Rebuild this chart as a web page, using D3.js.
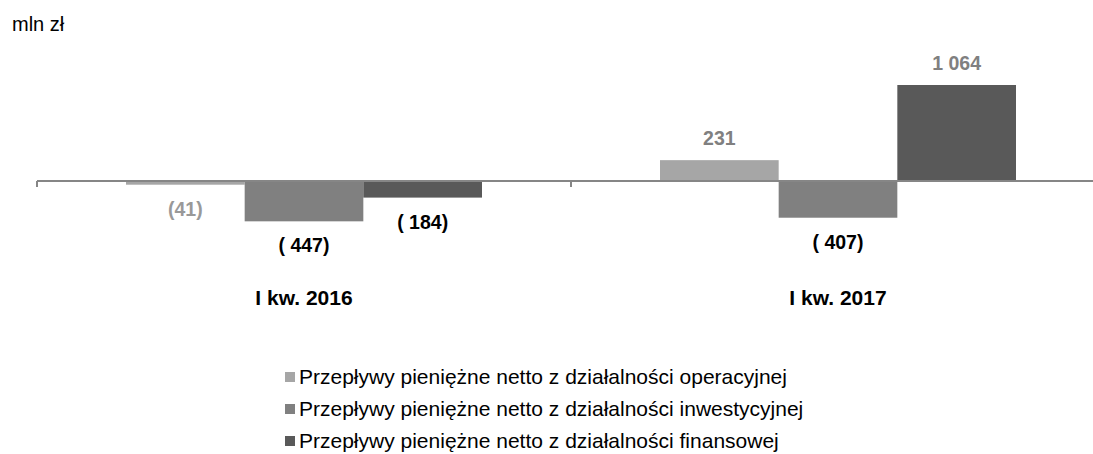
<!DOCTYPE html>
<html>
<head>
<meta charset="utf-8">
<script src="https://cdn.jsdelivr.net/npm/d3@7"></script>
<style>
  body { margin: 0; background: #fff; }
  text { font-family: "Liberation Sans", Arial, sans-serif; }
</style>
</head>
<body>
<svg id="chart" width="1093" height="454"></svg>
<script>
// dane wykresu
const categories = ['I kw. 2016', 'I kw. 2017'];
const seriesNames = [
    'Przepływy pieniężne netto z działalności operacyjnej',
    'Przepływy pieniężne netto z działalności inwestycyjnej',
    'Przepływy pieniężne netto z działalności finansowej'
];
const operacyjna = [-41, 231];
const inwestycyjna = [-447, -407];
const finansowa = [-184, 1064];
const valueLabels = [['(41)', '231'], ['( 447)', '( 407)'], ['( 184)', '1 064']];

const colors = ['#a6a6a6', '#808080', '#595959'];
const seriesValues = [operacyjna, inwestycyjna, finansowa];

const svg = d3.select('#chart');

// skale
const x0 = d3.scaleBand().domain(categories).range([37, 1105]).paddingInner(0).paddingOuter(0);
const x1 = d3.scaleBand().domain(d3.range(seriesNames.length))
    .range([0, x0.bandwidth()]).paddingOuter(0.75).paddingInner(0);
const y = d3.scaleLinear().domain([0, 1064]).range([181, 85]);

svg.append('text')
    .attr('x', 12).attr('y', 31)
    .attr('font-size', 20).attr('fill', '#000')
    .text('mln zł');

// słupki
seriesValues.forEach((vals, s) => {
    svg.selectAll('.bar' + s)
        .data(vals)
        .enter()
        .append('rect')
        .attr('x', (d, i) => x0(categories[i]) + x1(s))
        .attr('width', x1.bandwidth())
        .attr('y', d => Math.min(y(d), y(0)))
        .attr('height', d => Math.abs(y(d) - y(0)))
        .attr('fill', colors[s]);
});

// oś
svg.append('line')
    .attr('x1', 37).attr('x2', 1093)
    .attr('y1', y(0)).attr('y2', y(0))
    .attr('stroke', '#868686').attr('stroke-width', 2);
[37, x0(categories[1])].forEach(t => {
    svg.append('line')
        .attr('x1', t).attr('x2', t)
        .attr('y1', y(0)).attr('y2', y(0) + 6)
        .attr('stroke', '#868686').attr('stroke-width', 2);
});

// etykiety wartości
const labelColors = [['#999999', '#808080'], ['#000', '#000'], ['#000', '#808080']];
seriesValues.forEach((vals, s) => {
    vals.forEach((d, i) => {
        const cx = x0(categories[i]) + x1(s) + x1.bandwidth() / 2;
        const base = d < 0 ? y(d) + 31 : y(d) - 15;
        svg.append('text')
            .attr('x', cx)
            .attr('y', base)
            .attr('text-anchor', 'middle')
            .attr('font-size', 19.5)
            .attr('font-weight', 'bold')
            .attr('fill', labelColors[s][i])
            .text(valueLabels[s][i]);
    });
});

// kategorie
svg.selectAll('.cat')
    .data(categories)
    .enter()
    .append('text')
    .attr('x', d => x0(d) + x0.bandwidth() / 2)
    .attr('y', 305)
    .attr('text-anchor', 'middle')
    .attr('font-size', 21)
    .attr('font-weight', 'bold')
    .text(d => d);

// legenda
const legend = svg.selectAll('.leg')
    .data(seriesNames)
    .enter()
    .append('g')
    .attr('transform', (d, i) => `translate(285, ${384 + i * 32})`);
legend.append('rect')
    .attr('x', 0).attr('y', -12).attr('width', 10).attr('height', 10)
    .attr('fill', (d, i) => colors[i]);
legend.append('text')
    .attr('x', 14).attr('y', 0)
    .attr('font-size', 21)
    .attr('fill', '#000')
    .text(d => d);
</script>
</body>
</html>
